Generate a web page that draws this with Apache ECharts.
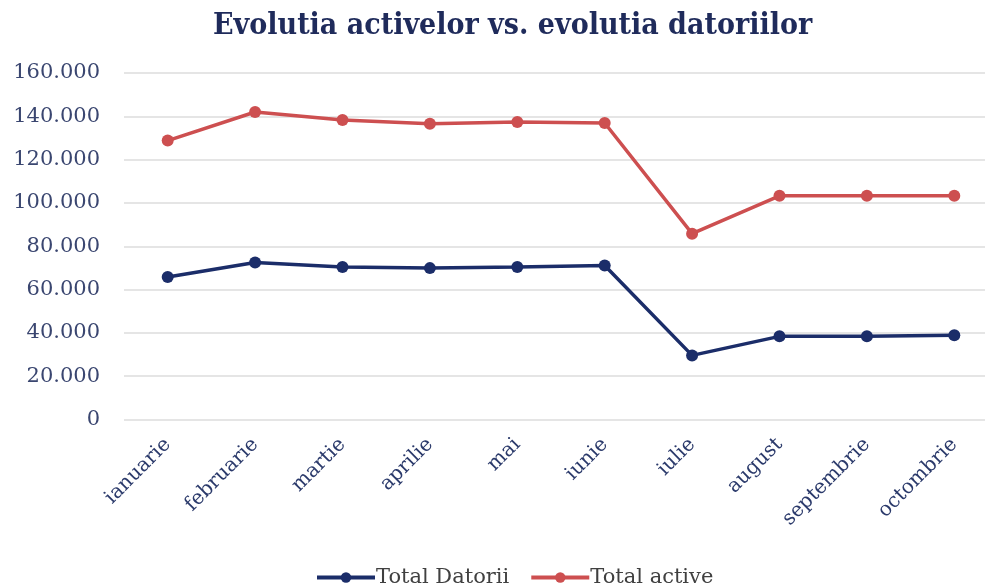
<!DOCTYPE html>
<html>
<head>
<meta charset="utf-8">
<script src="https://cdn.jsdelivr.net/npm/echarts@6/dist/echarts.min.js"></script>
<style>html,body{margin:0;padding:0;background:#fff;overflow:hidden;}#c{width:1000px;height:587px;}</style>
</head>
<body>
<div id="c"></div>
<script>
const titleText = 'Evolutia activelor vs. evolutia datoriilor';
const categories = ['ianuarie','februarie','martie','aprilie','mai','iunie','iulie','august','septembrie','octombrie'];
const totalDatorii = [65800, 72500, 70400, 69900, 70400, 71100, 29600, 38400, 38400, 38900];
const totalActive = [128800, 142000, 138300, 136600, 137400, 136900, 85800, 103300, 103300, 103300];
const seriesNames = ['Total Datorii', 'Total active'];
const yTicks = [0, 20000, 40000, 60000, 80000, 100000, 120000, 140000, 160000];

const chart = echarts.init(document.getElementById('c'));
const fmt = v => v === 0 ? '0' : String(v).replace(/\B(?=(\d{3})+(?!\d))/g, '.');
chart.setOption({
  animation: false,
  backgroundColor: '#ffffff',
  title: {
    text: titleText,
    left: 208,
    top: 6,
    textStyle: { fontFamily: '"DejaVu Serif Condensed", "DejaVu Serif"', fontWeight: 'bold', fontSize: 30, color: '#1f2b5b' }
  },
  legend: {
    data: seriesNames,
    left: 310,
    top: 562,
    itemWidth: 58,
    itemHeight: 13,
    itemGap: 20,
    lineStyle: { width: 4 },
    textStyle: { fontFamily: 'DejaVu Serif', fontSize: 21, color: '#404040', padding: [0,0,0,-4] }
  },
  grid: { left: 124, right: 2, top: 73, bottom: 167.5 },
  xAxis: {
    type: 'category',
    data: categories,
    boundaryGap: true,
    axisLine: { show: false },
    axisTick: { show: false },
    axisLabel: {
      rotate: 45,
      margin: 22,
      fontFamily: 'DejaVu Serif',
      fontSize: 20,
      color: '#2b3a6b'
    }
  },
  yAxis: {
    type: 'value',
    min: yTicks[0],
    max: yTicks[yTicks.length - 1],
    interval: yTicks[1] - yTicks[0],
    axisLine: { show: false },
    axisTick: { show: false },
    splitLine: { lineStyle: { color: '#dcdcdc', width: 1.5 } },
    axisLabel: {
      formatter: fmt,
      margin: 24,
      fontFamily: 'DejaVu Serif',
      fontSize: 21,
      color: '#3a4670'
    }
  },
  series: [
    {
      name: seriesNames[0],
      type: 'line',
      data: totalDatorii,
      symbol: 'circle',
      symbolSize: 12,
      lineStyle: { width: 3.5, color: '#1b2d69' },
      itemStyle: { color: '#1b2d69' }
    },
    {
      name: seriesNames[1],
      type: 'line',
      data: totalActive,
      symbol: 'circle',
      symbolSize: 12,
      lineStyle: { width: 3.5, color: '#cd4f50' },
      itemStyle: { color: '#cd4f50' }
    }
  ]
});
</script>
</body>
</html>
